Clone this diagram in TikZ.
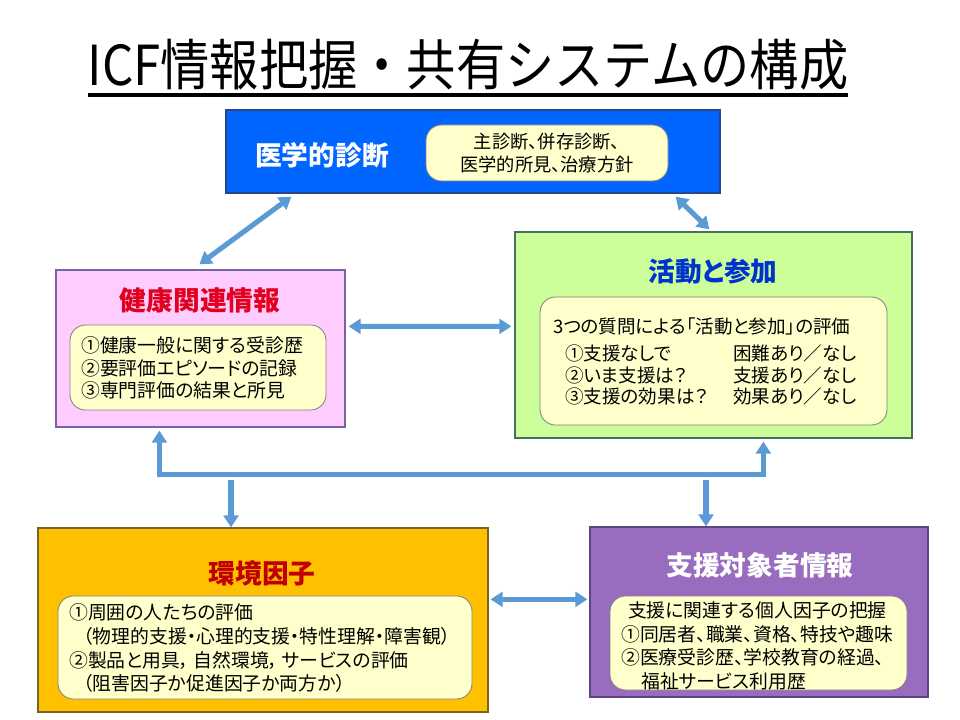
\documentclass[tikz,border=0pt]{standalone}
\usepackage{graphicx}
\usepackage{fontspec}
\setmainfont{Noto Sans CJK JP}[RawFeature=+palt]
\newfontfamily\ttlfont{Noto Sans CJK JP}
\usetikzlibrary{arrows.meta,fit,calc}
\definecolor{medblue}{RGB}{0,102,255}
\definecolor{medbd}{RGB}{40,70,140}
\definecolor{pinkf}{RGB}{255,204,255}
\definecolor{pinkbd}{RGB}{120,100,160}
\definecolor{greenf}{RGB}{204,255,153}
\definecolor{greenbd}{RGB}{70,110,90}
\definecolor{orangef}{RGB}{255,192,0}
\definecolor{orangebd}{RGB}{120,100,40}
\definecolor{purplef}{RGB}{152,108,190}
\definecolor{purplebd}{RGB}{90,70,130}
\definecolor{innery}{RGB}{255,255,204}
\definecolor{innerbd}{RGB}{130,130,130}
\definecolor{arrowc}{RGB}{91,155,213}
\definecolor{redt}{RGB}{225,0,30}
\definecolor{bluet}{RGB}{0,51,204}
\definecolor{darkredt}{RGB}{192,0,0}
\begin{document}
\begin{tikzpicture}[x=0.025cm,y=-0.025cm,
  box/.style={draw, line width=0.9pt, inner sep=0pt},
  innerbox/.style={draw=innerbd, fill=innery, rounded corners=11pt, line width=0.6pt, inner sep=0pt},
  hd/.style={font=\fontsize{19pt}{22pt}\selectfont\bfseries, inner sep=0pt},
  txt/.style={align=left, inner sep=0pt},
  arr/.style={draw=arrowc, line width=3.6pt, arrows={Triangle[length=8.5pt,width=10.5pt]-Triangle[length=8.5pt,width=10.5pt]}},
  arrone/.style={draw=arrowc, line width=3.6pt, arrows={-Triangle[length=8.5pt,width=10.5pt]}}]
\useasboundingbox (0,0) rectangle (960,720);
\fill[white] (0,0) rectangle (960,720);

% title
\node[font=\ttlfont\fontsize{35pt}{40pt}\selectfont, inner sep=0pt] (title) at (468,65) {\scalebox{1}[1.12]{ICF情報把握・共有システムの構成}};
\draw[line width=2.2pt] (88,95) -- (848,95);

% boxes
\node[box, draw=medbd, fill=medblue, fit={(226,110)(720,193)}] (med) {};
\node[box, draw=pinkbd, fill=pinkf, fit={(56,270)(345,427)}] (health) {};
\node[box, draw=greenbd, fill=greenf, fit={(515,232)(912,438)}] (act) {};
\node[box, draw=orangebd, fill=orangef, fit={(38,528)(488,712)}] (env) {};
\node[box, draw=purplebd, fill=purplef, fit={(590,527)(928,697)}] (sup) {};

% inner boxes
\node[innerbox, fit={(426,125)(668,181)}] (medin) {};
\node[innerbox, fit={(70,325)(326,410)}] (healthin) {};
\node[innerbox, fit={(540,297)(887,425)}] (actin) {};
\node[innerbox, fit={(58,596)(472,699)}] (envin) {};
\node[innerbox, fit={(610,596)(907,690)}] (supin) {};

% headings
\node[hd, text=white] (medt) at (322,155) {医学的診断};
\node[hd, text=redt] (healtht) at (200,300) {健康関連情報};
\node[hd, text=bluet] (actt) at (713,271) {活動と参加};
\node[hd, text=darkredt] (envt) at (262,573) {環境因子};
\node[hd, text=white] (supt) at (760,565) {支援対象者情報};

% texts
\node[txt, align=center, font=\fontsize{13pt}{16.4pt}\selectfont] (medtx) at (547,153) {主診断、併存診断、\\医学的所見、治療方針};
\node[txt, anchor=west, font=\fontsize{13.4pt}{16pt}\selectfont] (healthtx) at (81,368) {①健康一般に関する受診歴\\②要評価エピソードの記録\\③専門評価の結果と所見};
\node[txt, anchor=west, font=\fontsize{13.2pt}{16pt}\selectfont] (acthd) at (553,326) {3つの質問による「活動と参加」の評価};
\node[txt, anchor=west, font=\fontsize{13.2pt}{15.6pt}\selectfont] (actrows) at (565,375) {\makebox[4.2cm][l]{①支援なしで}困難あり／なし\\\makebox[4.2cm][l]{②いま支援は？}支援あり／なし\\\makebox[4.2cm][l]{③支援の効果は？}効果あり／なし};
\node[txt, anchor=west, font=\fontsize{13.4pt}{17pt}\selectfont] (envtx) at (69,648) {①周囲の人たちの評価\\\hspace*{0.35cm}（物理的支援・心理的支援・特性理解・障害観）\\②製品と用具，\hspace{0.1cm}自然環境，\hspace{0.1cm}サービスの評価\\\hspace*{0.35cm}（阻害因子か促進因子か両方か）};
\node[txt, anchor=west, font=\fontsize{13.4pt}{16.8pt}\selectfont] (suptx) at (621,646) {\hspace*{0.17cm}支援に関連する個人因子の把握\\①同居者、職業、資格、特技や趣味\\②医療受診歴、学校教育の経過、\\\hspace*{0.5cm}福祉サービス利用歴};

% connectors
\draw[arr] ($(med.south west)+(66,3)$) -- ($(health.north west)+(144,-5)$);
\draw[arr] ($(med.south east)+(-45,3)$) -- ($(act.north west)+(195,-2)$);
\draw[arr] ($(health.north east)+(3,57)$) -- ($(act.north west)+(-3,95)$);
\draw[arr] ($(env.north east)+(2,72)$) -- ($(sup.north west)+(-2,73)$);
\draw[arr] ($(health.south west)+(104,3)$) -- ++(0,44) -| ($(act.south west)+(249,3)$);
\coordinate (b1) at (231,480);
\coordinate (b2) at (706,480);
\draw[arrone] (b1) -- (b1 |- env.north);
\draw[arrone] (b2) -- (b2 |- sup.north);
\end{tikzpicture}
\end{document}
